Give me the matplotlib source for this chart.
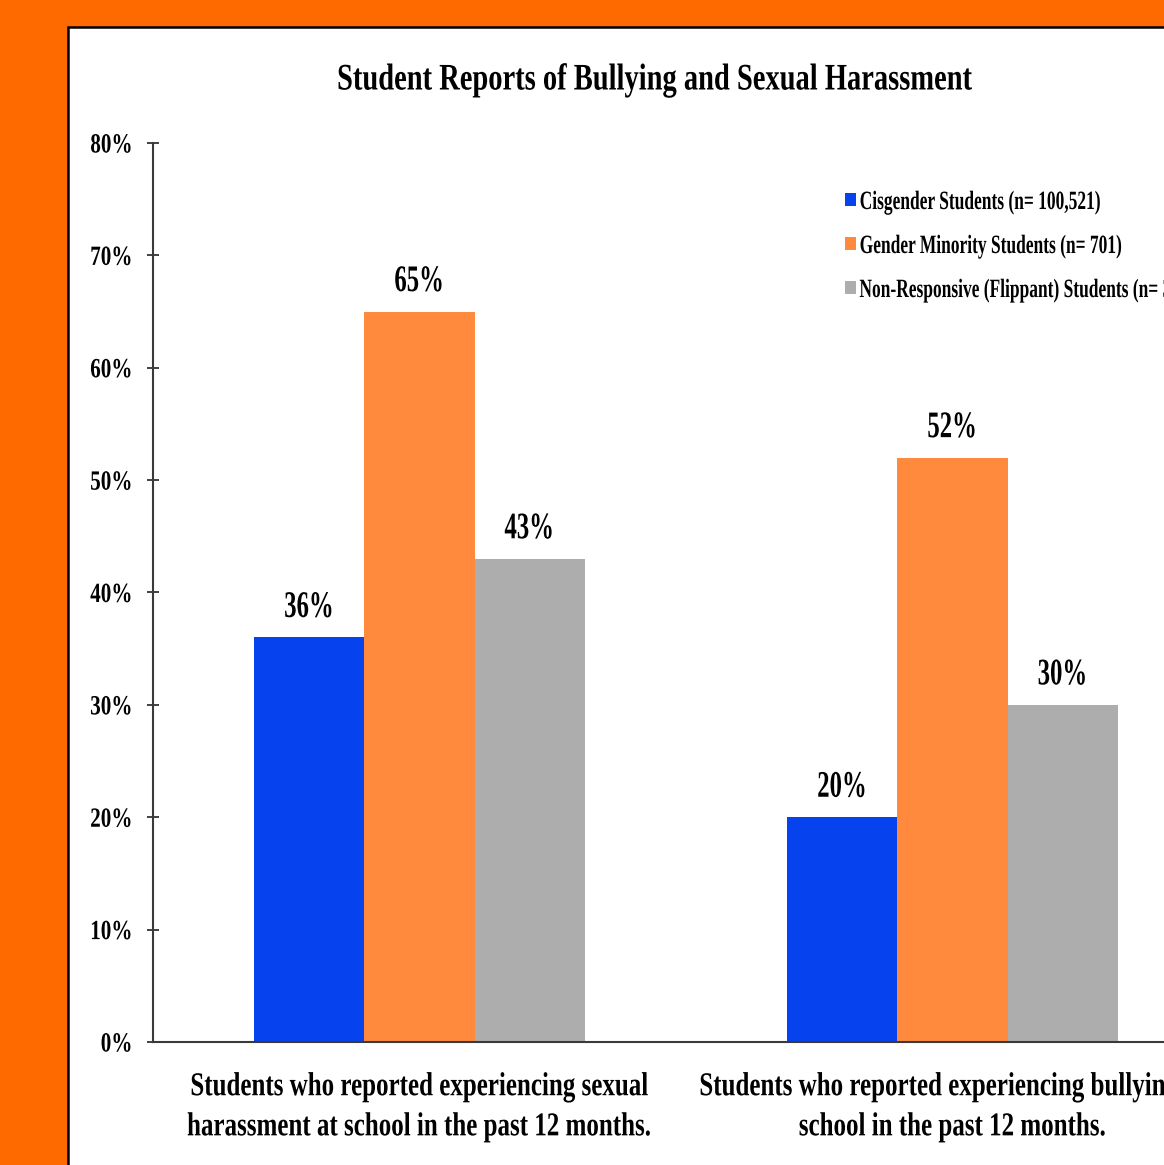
import matplotlib
matplotlib.use("Agg")
import matplotlib.pyplot as plt
from matplotlib.patches import Rectangle
from matplotlib.patheffects import AbstractPathEffect
from matplotlib.transforms import Affine2D
import numpy as np

# ---- data ----
categories = [
    "Students who reported experiencing sexual\nharassment at school in the past 12 months.",
    "Students who reported experiencing bullying at\nschool in the past 12 months.",
]
series_names = [
    "Cisgender Students (n= 100,521)",
    "Gender Minority Students (n= 701)",
    "Non-Responsive (Flippant) Students (n= 3",
]
cisgender = [0.36, 0.20]
gender_minority = [0.65, 0.52]
non_responsive = [0.43, 0.30]
value_labels = [["36%", "20%"], ["65%", "52%"], ["43%", "30%"]]
y_ticks = [0.0, 0.1, 0.2, 0.3, 0.4, 0.5, 0.6, 0.7, 0.8]
y_tick_labels = ["0%", "10%", "20%", "30%", "40%", "50%", "60%", "70%", "80%"]
title = "Student Reports of Bullying and Sexual Harassment"

colors = ["#0643EE", "#FF8A3D", "#ADADAD"]
ORANGE_BG = "#FF6A00"
SERIF = ["Liberation Serif", "DejaVu Serif"]


class Narrow(AbstractPathEffect):
    """Draw text glyphs squeezed horizontally (condensed face look)."""

    def __init__(self, sx=0.68, anchor="center"):
        super().__init__()
        self.sx = sx
        self.anchor = anchor

    def draw_path(self, renderer, gc, tpath, affine, rgbFace=None):
        ext = tpath.get_extents(affine)
        if self.anchor == "left":
            x0 = ext.x0
        elif self.anchor == "right":
            x0 = ext.x1
        else:
            x0 = 0.5 * (ext.x0 + ext.x1)
        squeeze = Affine2D().translate(-x0, 0).scale(self.sx, 1.0).translate(x0, 0)
        renderer.draw_path(gc, tpath, affine + squeeze, rgbFace)


W, H = 1164, 1165
fig = plt.figure(figsize=(W / 100, H / 100), dpi=100)
fig.patch.set_facecolor(ORANGE_BG)

# white slide panel with black outline (runs off the right and bottom edges)
panel = Rectangle((68 / W, -0.05), 1.2, (H - 27) / H + 0.05,
                  transform=fig.transFigure, facecolor="white",
                  edgecolor="black", linewidth=1.8, zorder=-10)
fig.patches.append(panel)

ax = fig.add_axes([153 / W, 123 / H, (1219 - 153) / W, (1042 - 143) / H])
ax.set_facecolor("none")
ax.set_zorder(1)

x = np.arange(len(categories))
width = 110 / 532
series = [cisgender, gender_minority, non_responsive]
for i, (vals, col) in enumerate(zip(series, colors)):
    pos = x + (i - 1) * width
    bars = ax.bar(pos, vals, width=width, color=col, label=series_names[i],
                  linewidth=0, zorder=2)
    for b, lab in zip(bars, value_labels[i]):
        ax.annotate(lab, (b.get_x() + b.get_width() / 2, b.get_height()),
                    xytext=(0, 9), textcoords="offset points",
                    ha="center", va="bottom", fontsize=27,
                    fontweight="bold", family=SERIF,
                    path_effects=[Narrow(0.66, "center")])

ax.set_xlim(-0.5, 1.5)
ax.set_ylim(0, 0.8)
ax.set_yticks(y_ticks)
ax.set_yticklabels(y_tick_labels)
ax.set_xticks([])
for lab in ax.get_yticklabels():
    lab.set_family(SERIF)
    lab.set_fontweight("bold")
    lab.set_fontsize(20)
    lab.set_path_effects([Narrow(0.76, "right")])
ax.tick_params(axis="y", direction="inout", length=9, width=1.3,
               color="#333333", pad=10)

for side in ["top", "right"]:
    ax.spines[side].set_visible(False)
for side in ["left", "bottom"]:
    ax.spines[side].set_color("#3a3a3a")
    ax.spines[side].set_linewidth(1.5)

# category labels under each group
for xi, cat in zip(x, categories):
    ax.text(xi, -0.026, cat, ha="center", va="top", fontsize=24,
            fontweight="bold", family=SERIF, linespacing=1.38,
            path_effects=[Narrow(0.75, "center")], clip_on=False)

fig.text(654 / W, (H - 80) / H, title, ha="center", va="center",
         fontsize=27, fontweight="bold", family=SERIF,
         path_effects=[Narrow(0.76, "center")])

leg = ax.legend(loc="upper left", bbox_to_anchor=(845 / W, (H - 191) / H),
                bbox_transform=fig.transFigure, frameon=False,
                prop={"family": SERIF, "weight": "bold", "size": 19},
                handlelength=0.42, handleheight=0.42, handletextpad=0.12,
                labelspacing=0.78, borderpad=0, borderaxespad=0)
for t in leg.get_texts():
    t.set_path_effects([Narrow(0.66, "left")])

fig.savefig("out.png", dpi=100, facecolor=fig.get_facecolor())
